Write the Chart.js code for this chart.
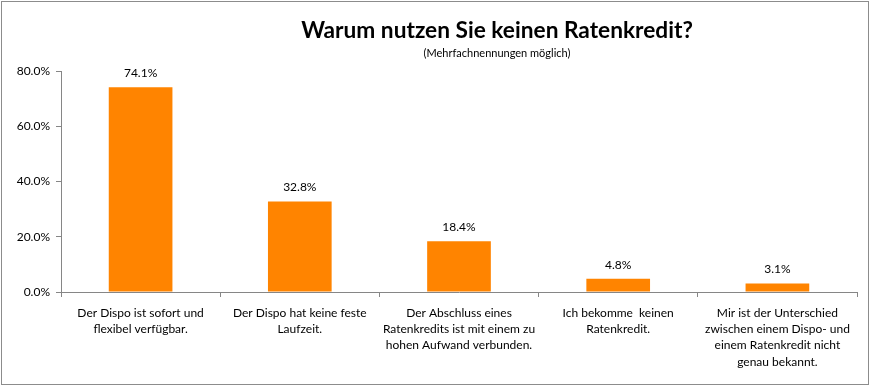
<!DOCTYPE html>
<html>
<head>
<meta charset="utf-8">
<script src="https://cdn.jsdelivr.net/npm/chart.js@4.4.0/dist/chart.umd.min.js"></script>
<style>
  html, body { margin: 0; padding: 0; background: #fff; }
  #wrap { width: 874px; height: 388px; }
</style>
</head>
<body>
<div id="wrap"><canvas id="chart"></canvas></div>
<script>
var categories = [
    ["Der Dispo ist sofort und", "flexibel verfügbar."],
    ["Der Dispo hat keine feste", "Laufzeit."],
    ["Der Abschluss eines", "Ratenkredits ist mit einem zu", "hohen Aufwand verbunden."],
    ["Ich bekomme  keinen", "Ratenkredit."],
    ["Mir ist der Unterschied", "zwischen einem Dispo- und", "einem Ratenkredit nicht", "genau bekannt."]
];
var values = [74.1, 32.8, 18.4, 4.8, 3.1];
var yTicks = [0, 20, 40, 60, 80];
var title = "Warum nutzen Sie keinen Ratenkredit?";
var subtitle = "(Mehrfachnennungen möglich)";

var fontName = "Lato, 'Open Sans', sans-serif";
var axisGray = "#868686";

// frame, title and value labels
var extras = {
    id: 'extras',
    afterDraw: function(chart) {
        var ctx = chart.ctx;
        ctx.save();
        ctx.strokeStyle = "#8c8c8c";
        ctx.lineWidth = 1;
        ctx.strokeRect(1.5, 1.5, 867, 383);

        ctx.fillStyle = "#000";
        ctx.textAlign = "center";
        ctx.textBaseline = "middle";
        ctx.font = "bold 22.7px " + fontName;
        ctx.fillText(title, 497, 31);
        ctx.font = "11px " + fontName;
        ctx.fillText(subtitle, 497, 53);

        var meta = chart.getDatasetMeta(0);
        ctx.font = "12px " + fontName;
        meta.data.forEach(function(bar, i) {
            ctx.fillText(values[i].toFixed(1) + "%", bar.x, bar.y - 14);
        });
        ctx.restore();
    }
};

new Chart(document.getElementById("chart"), {
    type: 'bar',
    data: {
        labels: categories,
        datasets: [{
            data: values,
            backgroundColor: "#ff8400",
            borderWidth: 0,
            categoryPercentage: 1.0,
            barPercentage: 0.4
        }]
    },
    options: {
        responsive: true,
        maintainAspectRatio: false,
        animation: false,
        layout: { padding: { left: 0, right: 17, top: 71, bottom: 0 } },
        plugins: {
            legend: { display: false },
            tooltip: { enabled: false }
        },
        scales: {
            x: {
                afterFit: function(scale) { scale.height = 96; },
                grid: { drawOnChartArea: false, drawTicks: true, tickLength: 5, color: axisGray, offset: true },
                border: { color: axisGray },
                ticks: {
                    maxRotation: 0,
                    autoSkip: false,
                    padding: 8,
                    color: "#000",
                    font: { family: fontName, size: 12, lineHeight: 1.35 }
                }
            },
            y: {
                min: 0,
                max: 80,
                afterFit: function(scale) { scale.width = 61; },
                afterBuildTicks: function(scale) {
                    scale.ticks = yTicks.map(function(v) { return { value: v }; });
                },
                grid: { drawOnChartArea: false, drawTicks: true, tickLength: 5, color: axisGray },
                border: { color: axisGray },
                ticks: {
                    padding: 6,
                    color: "#000",
                    font: { family: fontName, size: 12 },
                    callback: function(v) { return v.toFixed(1) + "%"; }
                }
            }
        }
    },
    plugins: [extras]
});
</script>
</body>
</html>
